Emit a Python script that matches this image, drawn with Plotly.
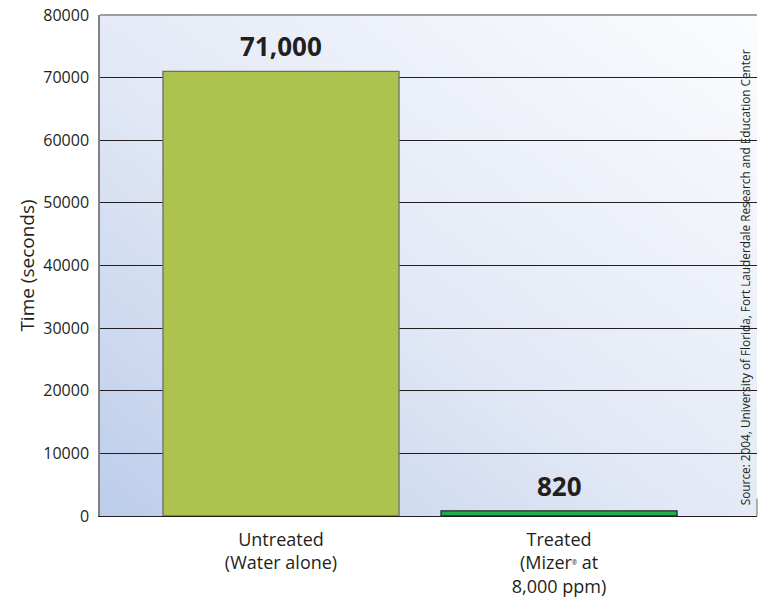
import base64
import plotly.graph_objects as go

# ---- data ----
categories = ["Untreated<br>(Water alone)",
              "Treated<br>(Mizer<span style=\"font-size:9px\"><sup>®</sup></span> at<br>8,000 ppm)"]
values = [71000, 820]
value_labels = ["71,000", "820"]
y_tick_values = [0, 10000, 20000, 30000, 40000, 50000, 60000, 70000, 80000]
y_tick_labels = ["0", "10000", "20000", "30000", "40000", "50000", "60000", "70000", "80000"]
bar_colors = ["#adc24f", "#1fae4b"]
bar_outline = ["#6d6e71", "#2b2b2b"]
y_title = "Time (seconds)"
source_text = "Source: 2004, University of Florida, Fort Lauderdale Research and Education Center"

FONT = "Open Sans"
TXT = "#231f20"

svg = (
    '<svg xmlns="http://www.w3.org/2000/svg" width="100" height="100" preserveAspectRatio="none">'
    '<defs><linearGradient id="g" x1="0" y1="1" x2="1" y2="0">'
    '<stop offset="0" stop-color="#bccdea"/>'
    '<stop offset="0.45" stop-color="#e2e8f5"/>'
    '<stop offset="1" stop-color="#fbfcfe"/>'
    '</linearGradient></defs>'
    '<rect width="100" height="100" fill="url(#g)"/></svg>'
)
svg_uri = "data:image/svg+xml;base64," + base64.b64encode(svg.encode()).decode()

fig = go.Figure()
fig.add_trace(go.Bar(
    x=categories,
    y=values,
    width=0.849,
    marker=dict(color=bar_colors, line=dict(color=bar_outline, width=1.3)),
    hoverinfo="skip",
))

for c, v, lab in zip(categories, values, value_labels):
    fig.add_annotation(
        x=c, y=v, text="<b>" + lab + "</b>", showarrow=False,
        yanchor="bottom", yshift=5,
        font=dict(family=FONT, size=26, color=TXT),
    )

fig.add_annotation(
    x=0.982, y=0.477, xref="paper", yref="paper", text=source_text,
    textangle=-90, showarrow=False, xanchor="center", yanchor="middle",
    font=dict(family=FONT, size=11.8, color=TXT),
)

fig.update_layout(
    width=766, height=602,
    margin=dict(l=100, r=9, t=15, b=86),
    paper_bgcolor="white",
    plot_bgcolor="rgba(0,0,0,0)",
    showlegend=False,
    font=dict(family=FONT, color=TXT),
    images=[dict(source=svg_uri, xref="paper", yref="paper", x=0, y=1,
                 sizex=1, sizey=1, sizing="stretch", layer="below",
                 xanchor="left", yanchor="top")],
    shapes=[
        dict(type="line", xref="paper", yref="paper", x0=0, x1=1, y0=1, y1=1,
             line=dict(color="#808285", width=1.5), layer="above"),
        dict(type="line", xref="paper", yref="paper", x0=1, x1=1, y0=0, y1=0.035,
             line=dict(color="#808285", width=1.2), layer="above"),
    ],
)

fig.update_xaxes(
    range=[-0.651, 1.712],
    showgrid=False,
    showline=True, linecolor="#231f20", linewidth=1.2,
    ticks="", tickfont=dict(family=FONT, size=18, color=TXT),
    ticklabelstandoff=7,
    ticklabeloverflow="allow",
    automargin=False,
    fixedrange=True,
)
fig.update_yaxes(
    range=[0, 80000],
    tickvals=y_tick_values, ticktext=y_tick_labels,
    tickfont=dict(family=FONT, size=16, color=TXT),
    ticklabelstandoff=6,
    ticklabeloverflow="allow",
    showgrid=True, gridcolor="#231f20", gridwidth=1,
    zeroline=False,
    showline=True, linecolor="#808285", linewidth=1.5,
    title=dict(text=y_title, font=dict(family=FONT, size=19, color=TXT), standoff=4),
    automargin=False,
    fixedrange=True,
)

fig.write_html("out.html", config={"displayModeBar": False},
               post_script="document.body.style.margin='0';")
